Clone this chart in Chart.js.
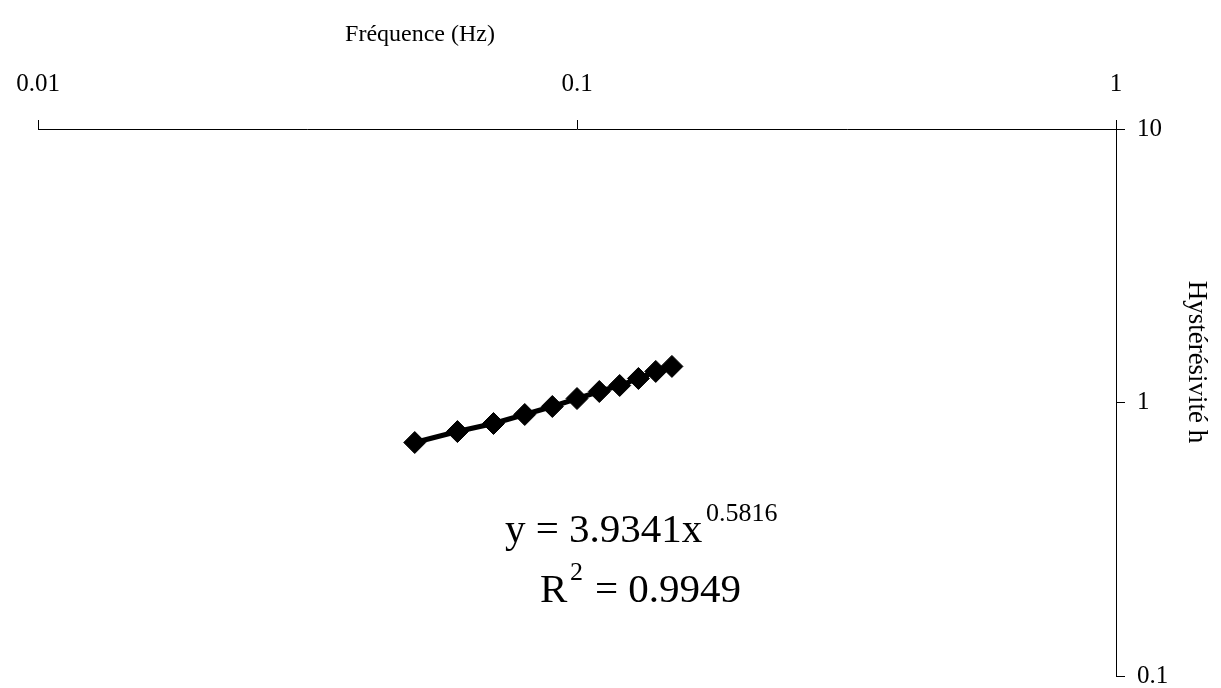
<!DOCTYPE html>
<html>
<head>
<meta charset="utf-8">
<script src="https://cdn.jsdelivr.net/npm/chart.js@4"></script>
<style>
  html, body { margin: 0; padding: 0; background: #fff; }
  #wrap { width: 1221px; height: 688px; position: relative; }
</style>
</head>
<body>
<div id="wrap"><canvas id="hystChart"></canvas></div>
<script>
// values
const frequencies = [0.05, 0.06, 0.07, 0.08, 0.09, 0.10, 0.11, 0.12, 0.13, 0.14, 0.15];
const hysteresivity = [0.714, 0.783, 0.838, 0.904, 0.967, 1.034, 1.097, 1.154, 1.224, 1.299, 1.355];
const xTickValues = [0.01, 0.1, 1];
const yTickValues = [0.1, 1, 10];
const xTitle = 'Fréquence (Hz)';
const yTitle = 'Hystérésivité h';
const fitBase = 'y = 3.9341x';
const fitExponent = '0.5816';
const fitR2 = '0.9949';

const serif = '"Liberation Serif", "Times New Roman", serif';

// axis titles and the trend equation, drawn as plain text
const textPlugin = {
  id: 'chartText',
  afterDraw(chart) {
    const ctx = chart.ctx;
    ctx.save();
    ctx.fillStyle = '#000';
    ctx.textBaseline = 'alphabetic';

    ctx.font = '24px ' + serif;
    ctx.textAlign = 'center';
    ctx.fillText(xTitle, 420, 41);

    ctx.save();
    ctx.translate(1189, 362);
    ctx.rotate(Math.PI / 2);
    ctx.font = '27px ' + serif;
    ctx.fillText(yTitle, 0, 0);
    ctx.restore();

    ctx.textAlign = 'left';
    ctx.font = '41px ' + serif;
    ctx.fillText(fitBase, 505, 542);
    ctx.fillText('R', 540, 602);
    ctx.fillText('= ' + fitR2, 595, 602);
    ctx.font = '26px ' + serif;
    ctx.fillText(fitExponent, 706, 521);
    ctx.fillText('2', 570, 580);
    ctx.restore();
  }
};

function axisOptions(tickValues, extra) {
  return Object.assign({
    type: 'logarithmic',
    afterBuildTicks: s => { s.ticks = tickValues.map(v => ({ value: v })); },
    grid: {
      display: true,
      drawOnChartArea: false,
      drawTicks: true,
      tickLength: 9,
      color: '#000',
      lineWidth: 1
    },
    border: { display: true, color: '#000', width: 1 },
    title: { display: false }
  }, extra);
}

new Chart(document.getElementById('hystChart'), {
  type: 'scatter',
  data: {
    datasets: [{
      data: frequencies.map((f, i) => ({ x: f, y: hysteresivity[i] })),
      showLine: true,
      borderColor: '#000',
      backgroundColor: '#000',
      borderWidth: 5,
      pointStyle: 'rectRot',
      pointRadius: 11,
      pointBorderWidth: 1,
      pointBackgroundColor: '#000',
      pointBorderColor: '#000'
    }]
  },
  options: {
    responsive: true,
    maintainAspectRatio: false,
    animation: false,
    layout: { padding: { left: 38, right: 0, top: 0, bottom: 10 } },
    plugins: { legend: { display: false }, tooltip: { enabled: false } },
    scales: {
      x: axisOptions(xTickValues, {
        position: 'top',
        min: 0.01,
        max: 1,
        afterFit: s => { s.height = 129; s.paddingLeft = 0; s.paddingRight = 0; },
        ticks: {
          color: '#000',
          font: { family: serif, size: 25 },
          padding: 21,
          maxRotation: 0,
          autoSkip: false,
          callback: v => String(v)
        }
      }),
      y: axisOptions(yTickValues, {
        position: 'right',
        min: 0.1,
        max: 10,
        afterFit: s => { s.width = 105; s.paddingTop = 0; s.paddingBottom = 0; },
        ticks: {
          color: '#000',
          font: { family: serif, size: 25 },
          padding: 12,
          autoSkip: false,
          callback: v => String(v)
        }
      })
    }
  },
  plugins: [textPlugin]
});
</script>
</body>
</html>
